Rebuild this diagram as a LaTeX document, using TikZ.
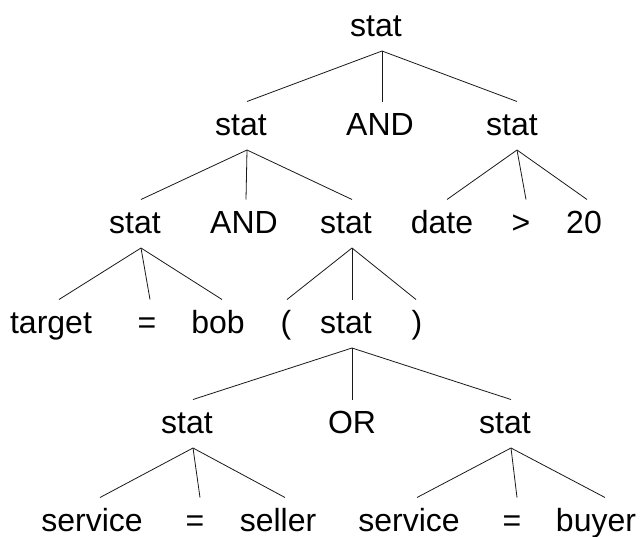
\documentclass[tikz,border=0pt]{standalone}
\usepackage{fontspec}
\setmainfont{Liberation Sans}
\tikzset{
  lab/.style={anchor=base, inner sep=0pt, text=black, font=\fontsize{32}{38}\selectfont},
  br/.style={line width=0.8pt, draw=black!90}
}
\newcommand\tedge[4]{\draw[br] ([shift={(#3pt,-15pt)}]#1.base) -- ([shift={(#4pt,33.5pt)}]#2.base);}
\begin{document}
\begin{tikzpicture}[x=1pt,y=-1pt]
\useasboundingbox (0,0) rectangle (643,536);
% level 1
\node[lab] (r) at (376,36) {stat};
% level 2
\node[lab] (a) at (241,135) {stat};
\node[lab] (b) at (380,135) {AND};
\node[lab] (c) at (512,135) {stat};
% level 3
\node[lab] (d) at (135,233) {stat};
\node[lab] (e) at (244,233) {AND};
\node[lab] (f) at (346,233) {stat};
\node[lab] (g) at (442,233) {date};
\node[lab] (h) at (521,233) {>};
\node[lab] (i) at (584,233) {20};
% level 4
\node[lab] (j) at (51,333) {target};
\node[lab] (k) at (147,333) {=};
\node[lab] (l) at (218,333) {bob};
\node[lab] (m) at (286,333) {(};
\node[lab] (n) at (346,333) {stat};
\node[lab] (o) at (417,333) {)};
% level 5
\node[lab] (p) at (187,433) {stat};
\node[lab] (q) at (352,433) {OR};
\node[lab] (s) at (505,433) {stat};
% level 6
\node[lab] (t) at (92,531) {service};
\node[lab] (u) at (195,531) {=};
\node[lab] (v) at (278,531) {seller};
\node[lab] (w) at (409,531) {service};
\node[lab] (x) at (512,531) {=};
\node[lab] (y) at (596,531) {buyer};
% edges
\tedge{r}{a}{6}{6}
\tedge{r}{b}{6}{2}
\tedge{r}{c}{6}{5}
\tedge{a}{d}{6}{6}
\tedge{a}{e}{6}{2}
\tedge{a}{f}{6}{6}
\tedge{c}{g}{5}{5}
\tedge{c}{h}{5}{5}
\tedge{c}{i}{5}{3}
\tedge{d}{j}{6}{8}
\tedge{d}{k}{6}{3}
\tedge{d}{l}{6}{4}
\tedge{f}{m}{6}{1}
\tedge{f}{n}{6}{6}
\tedge{f}{o}{6}{-1}
\tedge{n}{p}{6}{6}
\tedge{n}{q}{6}{0}
\tedge{n}{s}{6}{6}
\tedge{p}{t}{6}{8}
\tedge{p}{u}{6}{5}
\tedge{p}{v}{6}{7}
\tedge{s}{w}{6}{8}
\tedge{s}{x}{6}{5}
\tedge{s}{y}{6}{9}
\end{tikzpicture}
\end{document}
